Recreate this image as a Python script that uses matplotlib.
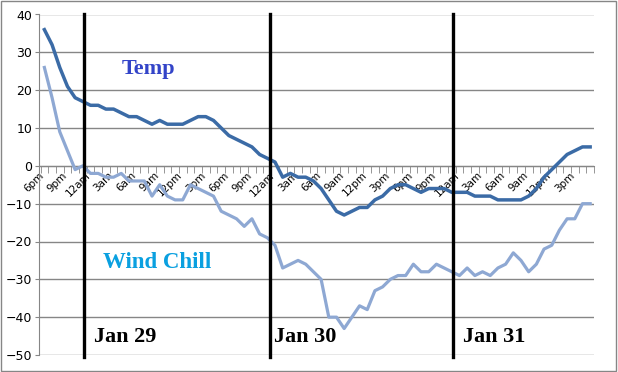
import matplotlib
matplotlib.use("Agg")
import matplotlib.pyplot as plt
from matplotlib.patches import Rectangle

# hourly readings, 6pm Jan 28 through 5pm Jan 31
temp = [36, 32, 26, 21, 18, 17, 16, 16, 15, 15, 14, 13, 13, 12, 11, 12, 11, 11,
        11, 12, 13, 13, 12, 10, 8, 7, 6, 5, 3, 2, 1, -3, -2, -3, -3, -4, -6, -9,
        -12, -13, -12, -11, -11, -9, -8, -6, -5, -5, -6, -7, -6, -6, -6, -7, -7,
        -7, -8, -8, -8, -9, -9, -9, -9, -8, -6, -3, -1, 1, 3, 4, 5, 5]
wind_chill = [26, 18, 9, 4, -1, 0, -2, -2, -3, -3, -2, -4, -4, -4, -8, -5, -8, -9,
              -9, -5, -6, -7, -8, -12, -13, -14, -16, -14, -18, -19, -21, -27, -26,
              -25, -26, -28, -30, -40, -40, -43, -40, -37, -38, -33, -32, -30, -29,
              -29, -26, -28, -28, -26, -27, -28, -29, -27, -29, -28, -29, -27, -26,
              -23, -25, -28, -26, -22, -21, -17, -14, -14, -10, -10]
hour_labels = ["6pm", "9pm", "12am", "3am", "6am", "9am", "12pm", "3pm"]
day_lines = [5.2, 29.3, 53.2]
day_names = ["Jan 29", "Jan 30", "Jan 31"]
day_text_x = [6.4, 29.9, 54.4]

n = len(temp)
xs = list(range(n))
label_pos = list(range(0, n, 3))
labels = [hour_labels[k % 8] for k in range(len(label_pos))]

fig = plt.figure(figsize=(6.18, 3.72), dpi=100)
ax = fig.add_axes([39 / 618, 1 - 355 / 372, 555 / 618, (355 - 14.5) / 372])

# chart border
fig.patches.append(Rectangle((0.002, 0.003), 0.995, 0.993, transform=fig.transFigure,
                             fill=False, edgecolor="#868686", linewidth=1))

ax.set_xlim(-0.5, n - 0.5)
ax.set_ylim(-50, 40)
ax.set_yticks(range(-50, 41, 10))
for v in range(-50, 41, 10):
    ax.axhline(v, color="#868686", linewidth=1, zorder=0)

ax.plot(xs, wind_chill, color="#8EA8D3", linewidth=2.3, solid_joinstyle="round", zorder=3)
ax.plot(xs, temp, color="#3B6BA6", linewidth=2.5, solid_joinstyle="round", zorder=3)

for d in day_lines:
    ax.plot([d, d], [40, -50.5], color="black", linewidth=2.4, clip_on=False, zorder=4)

for s in ["top", "right"]:
    ax.spines[s].set_visible(False)
ax.spines["left"].set_color("#868686")
ax.spines["bottom"].set_color("#868686")
ax.spines["bottom"].set_position(("data", 0))

# category boundaries get the small ticks, labels sit a little left of each category
ax.set_xticks([i - 0.5 for i in range(n + 1)], minor=True)
ax.set_xticks([p - 0.7 for p in label_pos])
ax.set_xticklabels(labels, rotation=45, ha="right", va="top", rotation_mode="anchor",
                   fontsize=7.5)
ax.tick_params(axis="x", which="major", length=0, pad=3)
ax.tick_params(axis="x", which="minor", length=5, color="#868686", direction="out")
ax.tick_params(axis="y", length=3, color="#868686", labelsize=9, pad=2)

ax.text(0.1495, 0.84, "Temp", transform=ax.transAxes, fontsize=16, fontweight="bold",
        family="Liberation Serif", color="#3344C8", va="center")
ax.text(0.115, 0.272, "Wind Chill", transform=ax.transAxes, fontsize=16.5, fontweight="bold",
        family="Liberation Serif", color="#0AA0E0", va="center")
for tx, name in zip(day_text_x, day_names):
    ax.text(tx, -45.3, name, fontsize=16, fontweight="bold", family="Liberation Serif",
            color="black", va="center")

fig.savefig("out.png", dpi=100)
